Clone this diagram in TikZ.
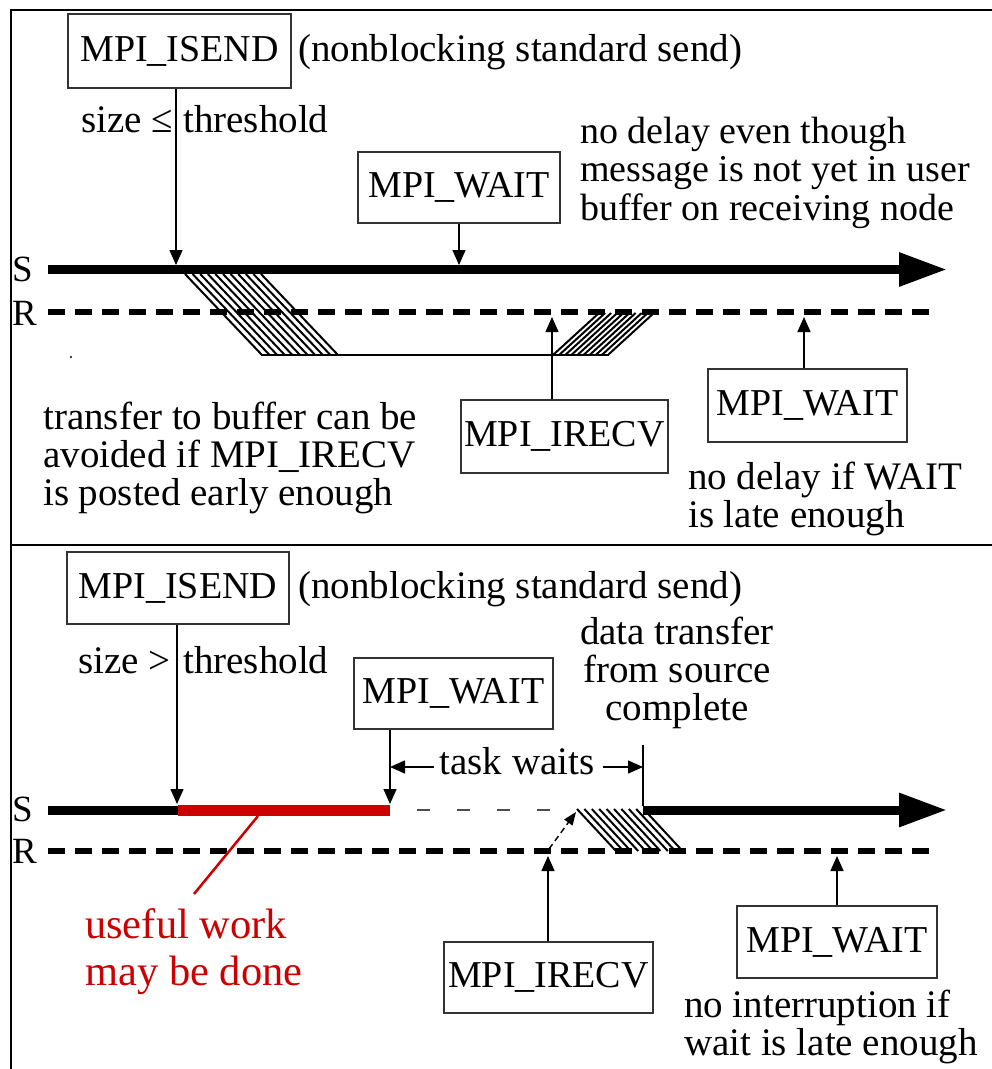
\documentclass[tikz,border=0pt]{standalone}
\usepackage{fontspec}
\setmainfont{Liberation Serif}
\usetikzlibrary{arrows.meta}
\definecolor{wred}{HTML}{CC0000}
\begin{document}
\begin{tikzpicture}[x=1pt,y=-1pt,
  txt/.style={font=\fontsize{39pt}{38pt}\selectfont, inner sep=0pt},
  lbl/.style={font=\fontsize{37pt}{37pt}\selectfont, inner sep=0pt, anchor=base west},
  box/.style={draw=black!80, line width=1.6pt, font=\fontsize{38pt}{38pt}\selectfont, inner sep=0pt},
  arr/.style={line width=1.5pt, -{Triangle[length=15pt,width=13pt]}},
  sline/.style={line width=9pt, -{Triangle[length=48pt,width=32pt]}},
  rline/.style={line width=6pt, dash pattern=on 17pt off 10pt},
  hatch/.style={line width=2pt},
  frame/.style={line width=2.6pt}
]
\useasboundingbox (0,0) rectangle (992,1069);
% frame
\draw[frame] (11,1072) -- (11,10) -- (995,10);
\draw[frame] (11,545) -- (995,545);

% ================= TOP PANEL =================
\node[box, minimum width=223pt, minimum height=74pt] (isendA) at (179.5,51) {MPI\_ISEND};
\node[txt, anchor=base west] (nbA) at (298,61) {(nonblocking standard send)};
\node[txt, anchor=base east] (szA) at (173,132) {size ≤};
\node[txt, anchor=base west] (thA) at (183,132) {threshold};
\node[box, minimum width=202pt, minimum height=71pt] (waitA) at (459,187.5) {MPI\_WAIT};
\node[txt, font=\fontsize{38pt}{38.5pt}\selectfont, anchor=base west, align=left] (ndA) at (580,220) {no delay even though\\message is not yet in user\\buffer on receiving node};

\node[lbl] (SA) at (12,281) {S};
\node[lbl] (RA) at (12,325) {R};

% hatching (behind lines)
\foreach \i in {0,...,10} \draw[hatch] ({185+7.6*\i},274) -- ({262+7.6*\i},355);
\draw[line width=1.5pt] (261,355) -- (609,355);
\foreach \i in {0,...,9} \draw[hatch] ({553+6.1*\i},355) -- ({599+6.1*\i},313);

\coordinate (sA0) at (48,269.5);
\coordinate (sA1) at (947,269.5);
\draw[sline] (sA0) -- (sA1);
\coordinate (rA0) at (48,312);
\coordinate (rA1) at (938,312);
\draw[rline] (rA0) -- (rA1);

\coordinate (aA1) at (176,265);
\draw[arr] (isendA.south -| aA1) -- (aA1);
\coordinate (aA2) at (459,265);
\draw[arr] (waitA.south -| aA2) -- (aA2);

\node[box, minimum width=207pt, minimum height=73pt] (irecvA) at (564.5,436.5) {MPI\_IRECV};
\coordinate (aA3) at (552,317);
\draw[arr] (irecvA.north -| aA3) -- (aA3);
\node[box, minimum width=199pt, minimum height=73pt] (waitB) at (807.5,405.5) {MPI\_WAIT};
\coordinate (aA4) at (804,317);
\draw[arr] (waitB.north -| aA4) -- (aA4);

\node[txt, anchor=base west, align=left] (tbA) at (43,505) {transfer to buffer can be\\avoided if MPI\_IRECV\\is posted early enough};
\node[txt, anchor=base west, align=left] (ndB) at (688,527) {no delay if WAIT\\is late enough};
\fill (71,357) circle (1.2pt);

% ================= BOTTOM PANEL =================
\node[box, minimum width=222pt, minimum height=72pt] (isendB) at (178,588) {MPI\_ISEND};
\node[txt, anchor=base west] (nbB) at (298,598) {(nonblocking standard send)};
\node[txt, anchor=base east] (szB) at (171,673) {size >};
\node[txt, anchor=base west] (thB) at (183,673) {threshold};
\node[box, minimum width=199pt, minimum height=71pt] (waitC) at (453.5,693.5) {MPI\_WAIT};
\node[txt, anchor=base, align=center] (dtB) at (677,720) {data transfer\\from source\\complete};
\node[txt, anchor=base] (twB) at (517,774) {task waits};

\node[lbl] (SB) at (12,821) {S};
\node[lbl] (RB) at (12,863) {R};

\coordinate (twL) at (390,767);
\coordinate (twR) at (643,767);
\draw[arr] ([xshift=-5pt]twB.west |- twL) -- (twL);
\draw[arr] ([xshift=8pt]twB.east |- twR) -- (twR);
\coordinate (vt0) at (643,745);
\coordinate (vt1) at (643,806);
\draw[line width=1.5pt] (vt0) -- (vt1);

\foreach \i in {0,...,9} \draw[hatch] ({577+7.4*\i},809) -- ({616+7.4*\i},851);

\coordinate (sB0) at (48,810);
\coordinate (sB1) at (178,810);
\coordinate (sB2) at (390,810);
\coordinate (sB3) at (565,810);
\coordinate (sB4) at (643,810);
\coordinate (sB5) at (947,810);
\draw[line width=9pt] (sB0) -- (sB1);
\draw[wred, line width=11pt] (sB1) -- (sB2);
\draw[black!70, line width=2pt, dash pattern=on 13pt off 27pt, dash phase=13pt] (sB2) -- (sB3);
\draw[sline] (sB4) -- (sB5);
\coordinate (rB0) at (48,851);
\coordinate (rB1) at (938,851);
\draw[rline] (rB0) -- (rB1);

\coordinate (aB1) at (177,804);
\draw[arr] (isendB.south -| aB1) -- (aB1);
\coordinate (aB2) at (390,804);
\draw[arr] (waitC.south -| aB2) -- (aB2);

\coordinate (dq0) at (549,849);
\coordinate (dq1) at (576,812);
\draw[line width=1.4pt, dash pattern=on 6pt off 4pt, -{Triangle[length=13pt,width=10pt]}] (dq0) -- (dq1);

\node[box, minimum width=209pt, minimum height=71pt] (irecvB) at (548.5,977.5) {MPI\_IRECV};
\coordinate (aB3) at (548,856);
\draw[arr] (irecvB.north -| aB3) -- (aB3);
\node[box, minimum width=200pt, minimum height=72pt] (waitD) at (837,942) {MPI\_WAIT};
\coordinate (aB4) at (837,856);
\draw[arr] (waitD.north -| aB4) -- (aB4);

\coordinate (rl0) at (258,816);
\coordinate (rl1) at (194,894);
\draw[wred, line width=2.5pt] (rl0) -- (rl1);
\node[txt, text=wred, font=\fontsize{42.5pt}{47pt}\selectfont, anchor=base west, align=left] (useB) at (85,985) {useful work\\may be done};
\node[txt, anchor=base west, align=left] (niB) at (684,1055) {no interruption if\\wait is late enough};
\end{tikzpicture}
\end{document}
